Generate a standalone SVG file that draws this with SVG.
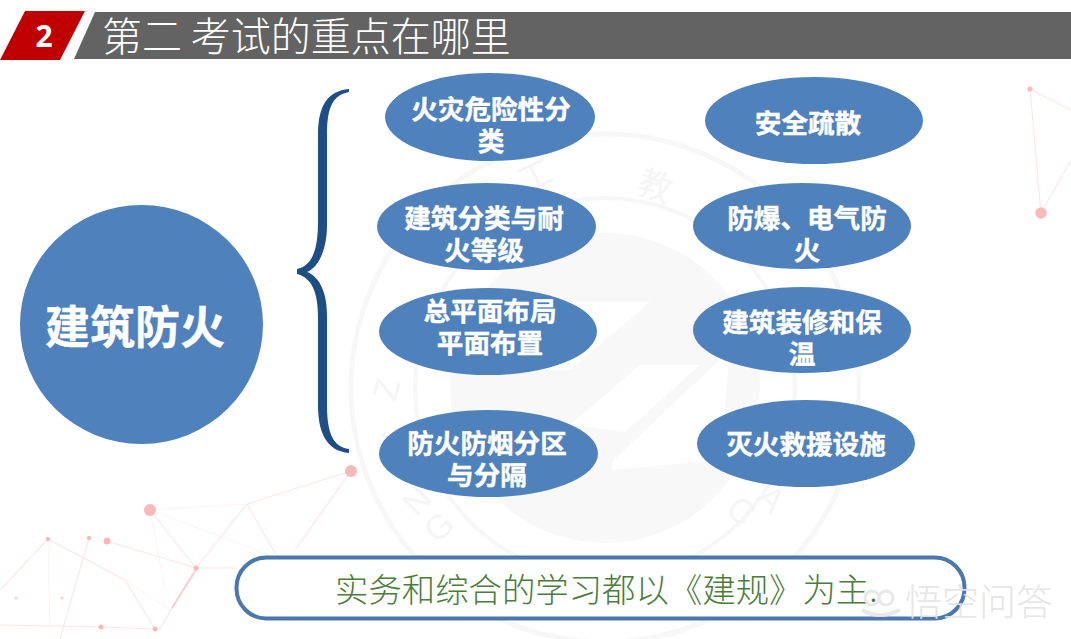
<svg xmlns="http://www.w3.org/2000/svg" width="1071" height="639" viewBox="0 0 1071 639">
<style>
.n{fill:#4f81bd}
.t{font-family:"Noto Sans CJK SC","Liberation Sans",sans-serif;font-weight:700;font-size:26.6px;fill:#fff;stroke:#fff;stroke-width:.4;text-anchor:middle}
.wm{font-family:"Liberation Sans","Noto Sans CJK SC",sans-serif;font-size:34px;fill:#f5f5f5;text-anchor:middle}
.l{stroke:#f8cfcf;stroke-width:1.1;fill:none;opacity:.55}
.lf{stroke:#fbe8e8;stroke-width:1;fill:none;opacity:.6}
.d{fill:#f9b8ba}
</style>
<rect width="1071" height="639" fill="#fff"/>
<g id="watermark">
<circle cx="605" cy="388" r="254" fill="none" stroke="#f7f7f7" stroke-width="5"/>
<circle cx="605" cy="388" r="190" fill="none" stroke="#f7f7f7" stroke-width="4"/>
<circle cx="605" cy="388" r="155" fill="#f8f8f8"/>
<path d="M520 302H650L570 370H500Z M570 425L640 365H650L700 365 625 432Z M612 462L730 350 720 460 612 470Z" fill="#fff" opacity=".9"/>
<text class="wm" x="535" y="188" transform="rotate(-25 535 176)">工</text>
<text class="wm" x="655" y="198" transform="rotate(20 655 186)">教</text>
<text class="wm" x="388" y="400" transform="rotate(-75 388 390)">Z</text>
<text class="wm" x="393" y="450" transform="rotate(-65 393 440)">I</text>
<text class="wm" x="418" y="512" transform="rotate(-45 418 502)">N</text>
<text class="wm" x="440" y="538" transform="rotate(-40 440 528)">G</text>
<text class="wm" x="740" y="522" transform="rotate(40 740 512)">C</text>
<text class="wm" x="770" y="510" transform="rotate(45 770 500)">A</text>
</g>
<g id="network">
<path class="l" d="M351 471L247 504 196 568 172 608 160 629 155 629 101 627 0 625"/>
<path class="l" d="M107 541L196 568M89 538L60 639M48 539L0 590M48 539L125 580 155 629"/>
<path class="l" d="M150 510L196 568M247 504L275 553M351 471L295 550M196 568L235 568"/>
<path class="lf" d="M150 510L247 504M150 510L165 590M150 510L270 555M48 539L50 630M125 580L170 610"/>
<path d="M196 570L172 608" stroke="#f7b5b5" stroke-width="2" fill="none" opacity=".6"/>
<path class="l" d="M1030 89L1041 213 1071 160M1030 89L1071 110"/>
<circle class="d" cx="150" cy="510" r="6"/><circle class="d" cx="351" cy="471" r="6"/>
<circle class="d" cx="107" cy="541" r="3.5"/><circle class="d" cx="89" cy="538" r="2.2"/><circle class="d" cx="48" cy="539" r="2.2"/>
<circle class="d" cx="196" cy="568" r="2.5"/><circle class="d" cx="155" cy="629" r="2.5"/><circle class="d" cx="101" cy="627" r="2.5"/>
<circle class="d" cx="16" cy="598" r="1.5" opacity=".7"/><circle class="d" cx="62" cy="598" r="1.5" opacity=".7"/>
<circle class="d" cx="1030" cy="89" r="2.5"/><circle class="d" cx="1041" cy="213" r="5.7"/>
</g>
<g id="header">
<path d="M0 60L25 11H85L60 60Z" fill="#c00000"/>
<path d="M74 59L95 12H1071V59Z" fill="#636363"/>
<text x="44" y="47" font-family="'Open Sans','Liberation Sans',sans-serif" font-weight="700" font-size="30" fill="#fff" text-anchor="middle">2</text>
<text x="102" y="51" font-family="'Noto Sans CJK SC',sans-serif" font-weight="300" font-size="40" word-spacing="0" fill="#fff">第二 考试的重点在哪里</text>
</g>
<g id="connectors">
<path d="M349 89C328 91 318 105 318 135V222C318 250 312 266 297 269V274C312 278 318 292 318 318V405C318 435 328 451 349 453V449C334 447 327 435 327 405V315C327 290 318 276 307 272C318 268 327 250 327 225V135C327 105 334 95 349 92Z" fill="#1f4e86"/>
</g>
<g id="main"><ellipse class="n" cx="141.500" cy="324.500" rx="121.500" ry="119.500"/>
<text class="t" x="135" y="344" style="font-size:45px">建筑防火</text></g>
<g id="n1"><ellipse class="n" cx="490" cy="117" rx="105" ry="44"/><text class="t" x="491" y="119">火灾危险性分<tspan x="491" dy="32">类</tspan></text></g>
<g id="n2"><ellipse class="n" cx="814" cy="120.500" rx="109" ry="43.500"/><text class="t" x="808" y="133">安全疏散</text></g>
<g id="n3"><ellipse class="n" cx="486.500" cy="226.500" rx="109.500" ry="43.500"/><text class="t" x="484" y="228">建筑分类与耐<tspan x="484" dy="32">火等级</tspan></text></g>
<g id="n4"><ellipse class="n" cx="802" cy="226" rx="109" ry="43"/><text class="t" x="807" y="228">防爆、电气防<tspan x="807" dy="32">火</tspan></text></g>
<g id="n5"><ellipse class="n" cx="488" cy="331.500" rx="109" ry="43.500"/><text class="t" x="490" y="321">总平面布局<tspan x="490" dy="32">平面布置</tspan></text></g>
<g id="n6"><ellipse class="n" cx="802" cy="330" rx="109" ry="43"/><text class="t" x="802" y="332">建筑装修和保<tspan x="802" dy="32">温</tspan></text></g>
<g id="n7"><ellipse class="n" cx="488.500" cy="453.500" rx="109.500" ry="43.500"/><text class="t" x="487" y="453">防火防烟分区<tspan x="487" dy="32">与分隔</tspan></text></g>
<g id="n8"><ellipse class="n" cx="806" cy="443.500" rx="109" ry="43.500"/><text class="t" x="806" y="454">灭火救援设施</text></g>
<g id="note"><rect x="236.500" y="557.500" width="728" height="61" rx="30" fill="#fff" stroke="#4a77b0" stroke-width="4"/>
<text x="335" y="602" font-family="'Noto Sans CJK SC',sans-serif" font-weight="300" font-size="33.400" fill="#4a7c3a">实务和综合的学习都以《建规》为主.</text></g>
<g id="brand" opacity=".9">
<circle cx="872" cy="598" r="7" fill="none" stroke="#e6e6e6" stroke-width="3"/><circle cx="886" cy="598" r="7" fill="none" stroke="#e6e6e6" stroke-width="3"/>
<path d="M862 610Q879 620 900 610" fill="none" stroke="#e6e6e6" stroke-width="4"/>
<text x="905" y="616" font-family="'Noto Sans CJK SC',sans-serif" font-weight="300" font-size="37" fill="#e4e4e4">悟空问答</text></g>
</svg>
